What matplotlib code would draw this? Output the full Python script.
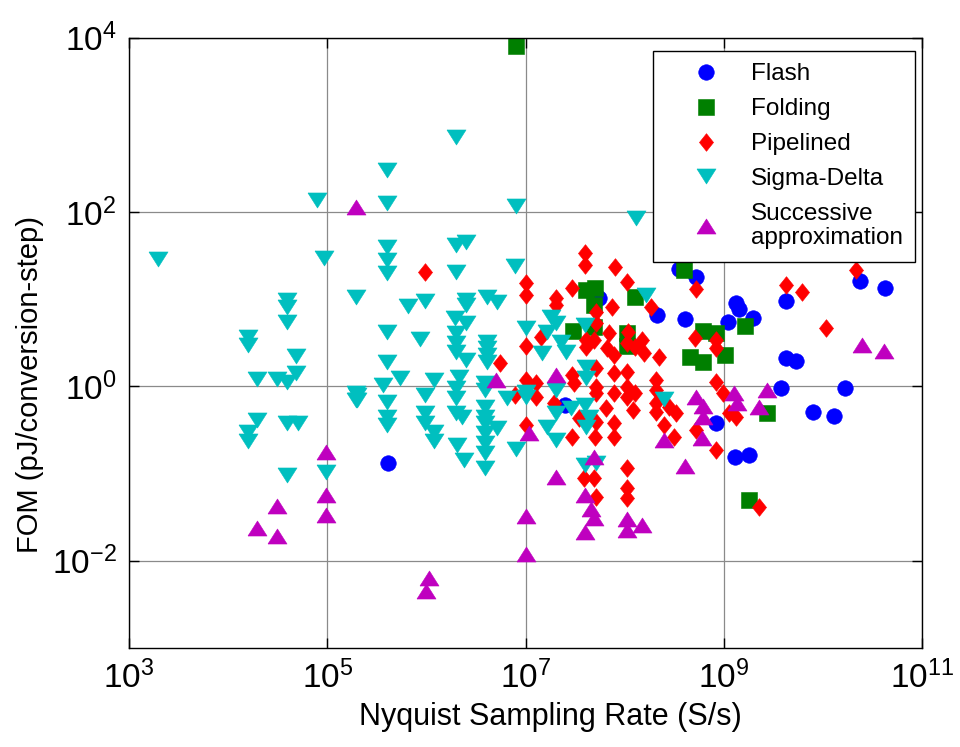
import numpy as np
import matplotlib
matplotlib.use("Agg")
import matplotlib.pyplot as plt
from matplotlib.ticker import FixedLocator, LogFormatterSciNotation, NullLocator

plt.rcParams['font.family'] = ['Liberation Sans', 'DejaVu Sans']
plt.rcParams['mathtext.fontset'] = 'custom'
plt.rcParams['mathtext.rm'] = 'Liberation Sans Narrow'
plt.rcParams['mathtext.it'] = 'Liberation Sans Narrow:italic'
plt.rcParams['mathtext.default'] = 'regular'

# ADC survey: log10 of Nyquist rate (S/s) and log10 of FOM (pJ/conversion-step)
flash_log_rate = [5.61, 7.74, 8.33, 8.55, 8.72, 8.61, 9.04, 9.12, 9.15, 9.30, 9.63, 10.37,
                  10.63, 9.63, 9.73, 9.58, 10.22, 9.90, 10.11, 8.92, 9.11, 9.25, 7.40]
flash_log_fom = [-0.88, 1.01, 0.82, 1.35, 1.26, 0.77, 0.74, 0.96, 0.89, 0.79, 0.98, 1.21,
                 1.13, 0.33, 0.29, -0.02, -0.02, -0.29, -0.34, -0.42, -0.81, -0.79, -0.21]

folding_log_rate = [6.90, 7.61, 7.70, 7.69, 8.10, 8.60, 7.48, 7.69, 8.02, 8.02, 8.79, 8.92,
                    8.66, 8.79, 9.01, 9.21, 9.44, 9.25]
folding_log_fom = [3.90, 1.11, 1.13, 0.93, 1.03, 1.34, 0.64, 0.68, 0.61, 0.46, 0.64, 0.61,
                   0.34, 0.28, 0.36, 0.69, -0.30, -1.30]

pipelined_log_rate = [5.99, 7.60, 7.60, 7.90, 8.02, 7.01, 7.01, 7.47, 7.31, 7.31, 7.87, 8.27,
                      8.72, 7.71, 7.71, 8.71, 8.92, 8.92, 8.35, 7.01, 7.16, 7.61, 7.69, 7.61,
                      7.84, 8.03, 8.02, 8.18, 7.82, 7.89, 8.20, 8.10, 6.74, 7.47, 7.49, 7.71,
                      7.71, 7.71, 7.89, 8.02, 8.02, 8.10, 7.89, 8.02, 8.32, 8.32, 8.32, 8.92,
                      7.01, 7.11, 6.89, 7.11, 7.29, 8.45, 8.52, 7.81, 7.71, 7.47, 7.70, 7.89,
                      7.89, 8.08, 8.40, 8.50, 7.01, 8.72, 8.92, 8.99, 9.05, 9.12, 7.59, 7.69,
                      7.71, 8.02, 8.02, 8.02, 9.63, 9.79, 10.33, 10.03, 9.36, 7.54, 8.32]
pipelined_log_fom = [1.31, 1.53, 1.39, 1.37, 1.20, 1.19, 1.05, 1.13, 1.01, 0.93, 0.91, 0.91,
                     1.12, 0.85, 0.73, 0.56, 0.53, 0.44, 0.34, 0.46, 0.57, 0.53, 0.53, 0.45,
                     0.61, 0.63, 0.50, 0.53, 0.44, 0.36, 0.38, 0.45, 0.27, 0.13, 0.04, 0.21,
                     -0.01, -0.07, 0.15, 0.17, -0.01, -0.07, -0.07, -0.12, 0.07, -0.19, -0.29, 0.05,
                     0.07, 0.04, -0.10, -0.12, -0.19, -0.24, -0.30, -0.25, -0.41, -0.58, -0.58, -0.42,
                     -0.58, -0.27, -0.44, -0.58, -0.44, -0.50, -0.73, -0.07, -0.30, -0.35, -1.05, -1.05,
                     -1.27, -0.93, -1.16, -1.28, 1.16, 1.08, 1.34, 0.67, -1.38, -0.36, -0.04]

sigma_delta_log_rate = [3.29, 4.90, 4.97, 5.60, 5.60, 6.30, 6.90, 8.11, 6.40, 6.30, 5.60, 5.60,
                        5.60, 5.29, 4.59, 4.59, 4.59, 5.60, 4.20, 4.20, 4.68, 5.60, 4.29, 4.49,
                        4.59, 4.68, 5.56, 5.29, 5.29, 5.60, 4.29, 4.20, 4.20, 4.59, 4.70, 5.60,
                        5.60, 4.59, 4.99, 6.30, 5.99, 5.81, 6.40, 6.40, 6.61, 6.71, 6.29, 6.40,
                        5.94, 6.30, 6.30, 6.30, 6.40, 6.61, 6.61, 6.61, 6.61, 5.73, 6.08, 6.33,
                        6.30, 6.30, 6.30, 6.36, 6.59, 6.59, 5.30, 5.30, 5.99, 5.99, 5.99, 6.08,
                        6.08, 6.59, 6.59, 6.59, 6.71, 6.59, 6.59, 6.59, 6.59, 6.31, 6.38, 6.81,
                        6.89, 6.90, 7.01, 7.26, 7.31, 7.22, 7.36, 7.41, 7.17, 7.60, 8.22, 7.61,
                        7.61, 7.01, 7.01, 7.31, 8.40, 7.46, 7.60, 7.31, 7.64, 7.61, 7.22, 7.31,
                        7.60, 7.71]
sigma_delta_log_fom = [1.46, 2.14, 1.47, 2.48, 2.10, 2.86, 2.07, 1.93, 1.66, 1.62, 1.60, 1.45,
                       1.30, 1.03, 0.99, 0.91, 0.74, 0.63, 0.57, 0.48, 0.35, 0.28, 0.09, 0.09,
                       0.05, 0.15, 0.02, -0.07, -0.15, -0.18, -0.38, -0.52, -0.63, -0.42, -0.42, -0.35,
                       -0.44, -1.01, -0.98, 1.31, 0.98, 0.92, 0.99, 0.93, 1.03, 0.97, 0.79, 0.73,
                       0.54, 0.61, 0.50, 0.40, 0.30, 0.51, 0.44, 0.36, 0.28, 0.10, 0.07, 0.11,
                       -0.02, -0.13, -0.30, -0.35, 0.04, -0.04, -0.10, -0.15, -0.10, -0.30, -0.42, -0.52,
                       -0.63, -0.24, -0.35, -0.42, -0.48, -0.53, -0.65, -0.76, -0.93, -0.67, -0.84, -0.13,
                       1.38, -0.72, 0.67, 0.80, 0.73, 0.63, 0.51, 0.40, 0.38, 0.71, 1.05, 0.22,
                       0.10, -0.06, -0.12, -0.04, -0.14, -0.25, -0.21, -0.30, -0.35, -0.46, -0.46, -0.61,
                       -0.90, -0.88]

sar_log_rate = [5.29, 6.70, 7.31, 7.04, 4.99, 4.99, 4.99, 4.49, 4.29, 4.49, 7.01, 7.01,
                6.03, 6.00, 7.31, 7.69, 7.60, 7.66, 7.69, 7.60, 8.02, 8.02, 8.18, 8.40,
                8.61, 8.72, 8.79, 8.79, 8.78, 9.10, 9.13, 9.44, 9.36, 10.39, 10.62]
sar_log_fom = [2.06, 0.07, 0.13, -0.53, -0.75, -1.24, -1.47, -1.37, -1.62, -1.71, -1.49, -1.92,
               -2.20, -2.35, -1.04, -0.81, -1.24, -1.40, -1.51, -1.67, -1.52, -1.65, -1.59, -0.61,
               -0.91, -0.12, -0.22, -0.35, -0.59, -0.07, -0.19, -0.04, -0.24, 0.48, 0.41]

series_labels = ['Flash', 'Folding', 'Pipelined', 'Sigma-Delta', 'Successive\napproximation']
x_ticks = [1e3, 1e5, 1e7, 1e9, 1e11]
y_ticks = [1e-2, 1e0, 1e2, 1e4]

diamond = [(0, 1), (0.8, 0), (0, -1), (-0.8, 0), (0, 1)]
tri_down = [(-1, 0.79), (1, 0.79), (0, -0.79), (-1, 0.79)]
tri_up = [(-1, -0.79), (1, -0.79), (0, 0.79), (-1, -0.79)]

styles = [
    dict(marker='o', ms=11.2, color='#0000ff'),
    dict(marker='s', ms=11.0, color='#007f00'),
    dict(marker=diamond, ms=12.7, color='#ff0000'),
    dict(marker=tri_down, ms=13.7, color='#00bfbf'),
    dict(marker=tri_up, ms=13.7, color='#bf00bf'),
]
data = [
    (flash_log_rate, flash_log_fom),
    (folding_log_rate, folding_log_fom),
    (pipelined_log_rate, pipelined_log_fom),
    (sigma_delta_log_rate, sigma_delta_log_fom),
    (sar_log_rate, sar_log_fom),
]

fig = plt.figure(figsize=(9.6, 7.47), dpi=100)
ax = fig.add_axes([0.1344, 0.1325, 0.826, 0.817])

for (lx, ly), st, lab in zip(data, styles, series_labels):
    ax.plot(10 ** np.array(lx), 10 ** np.array(ly), linestyle='none',
            marker=st['marker'], markersize=st['ms'], color=st['color'],
            markeredgecolor=st['color'], markeredgewidth=0.4, label=lab)

ax.set_xscale('log')
ax.set_yscale('log')
ax.set_xlim(1e3, 1e11)
ax.set_ylim(1e-3, 1e4)
ax.xaxis.set_major_locator(FixedLocator(x_ticks))
ax.yaxis.set_major_locator(FixedLocator(y_ticks))
ax.xaxis.set_minor_locator(NullLocator())
ax.yaxis.set_minor_locator(NullLocator())
ax.xaxis.set_major_formatter(LogFormatterSciNotation())
ax.yaxis.set_major_formatter(LogFormatterSciNotation())

ax.set_axisbelow(True)
ax.grid(True, which='major', color='#8a8a8a', linewidth=0.9)
ax.tick_params(direction='in', length=7, width=1, top=True, right=True,
               labelsize=24)
ax.tick_params(axis='x', pad=9)
ax.tick_params(axis='y', pad=9)
for sp in ax.spines.values():
    sp.set_linewidth(1.0)

ax.set_xlabel('Nyquist Sampling Rate (S/s)', fontsize=22)
ax.set_ylabel('FOM (pJ/conversion-step)', fontsize=21)
ax.xaxis.set_label_coords(0.531, -0.088)
ax.yaxis.set_label_coords(-0.107, 0.431)

leg = ax.legend(loc='upper right', bbox_to_anchor=(0.991, 0.978), fontsize=17.5,
                frameon=True, fancybox=False, framealpha=1, edgecolor='black',
                borderpad=0.5, handlelength=3.36, handletextpad=0.17,
                labelspacing=0.53, borderaxespad=0)
leg.get_frame().set_linewidth(1.0)
leg.get_texts()[-1].set_linespacing(1.15)

fig.savefig('out.png', dpi=100)
